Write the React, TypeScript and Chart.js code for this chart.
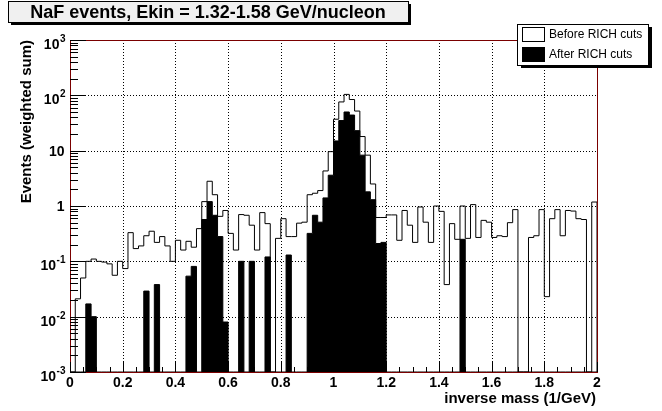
import React, { useEffect, useRef } from 'react';
import { Chart, registerables } from 'chart.js';

Chart.register(...registerables);

// ---- data -------------------------------------------------------------
const binLowEdges = [
  0.0, 0.02, 0.04, 0.06, 0.08, 0.1, 0.12, 0.14, 0.16, 0.18,
  0.2, 0.22, 0.24, 0.26, 0.28, 0.3, 0.32, 0.34, 0.36, 0.38,
  0.4, 0.42, 0.44, 0.46, 0.48, 0.5, 0.52, 0.54, 0.56, 0.58,
  0.6, 0.62, 0.64, 0.66, 0.68, 0.7, 0.72, 0.74, 0.76, 0.78,
  0.8, 0.82, 0.84, 0.86, 0.88, 0.9, 0.92, 0.94, 0.96, 0.98,
  1.0, 1.02, 1.04, 1.06, 1.08, 1.1, 1.12, 1.14, 1.16, 1.18,
  1.2, 1.22, 1.24, 1.26, 1.28, 1.3, 1.32, 1.34, 1.36, 1.38,
  1.4, 1.42, 1.44, 1.46, 1.48, 1.5, 1.52, 1.54, 1.56, 1.58,
  1.6, 1.62, 1.64, 1.66, 1.68, 1.7, 1.72, 1.74, 1.76, 1.78,
  1.8, 1.82, 1.84, 1.86, 1.88, 1.9, 1.92, 1.94, 1.96, 1.98,
];
const xUpperEdge = 2.0;

const beforeRichCuts = [
  0, 0.021, 0.05, 0.1, 0.11, 0.1, 0.097, 0.09, 0.056, 0.1,
  0.074, 0.33, 0.17, 0.19, 0.29, 0.35, 0.22, 0.28, 0.19, 0.1,
  0.24, 0.16, 0.23, 0.18, 0.39, 1.2, 2.8, 1.6, 0.65, 0.83,
  0.32, 0.16, 0.7, 0.68, 0.45, 0.16, 0.76, 0.48, 0, 0.26,
  0.59, 0.28, 0.28, 0.49, 0.51, 1.6, 1.7, 1.9, 4.3, 9.6,
  37, 76, 104, 84, 52, 18, 8.3, 2.5, 0.62, 0.62,
  0.69, 0.69, 0.24, 0.83, 0.45, 0.22, 0.96, 0.51, 0.22, 1.0,
  0.8, 0.038, 0.48, 0.25, 1.0, 0.26, 1.06, 0.27, 0.55, 0.51,
  0.27, 0.29, 0.28, 0.5, 0.86, 0, 0, 0.27, 0.29, 0.86,
  0.023, 0.59, 0.86, 0.29, 0.83, 0.81, 0.59, 0.57, 0, 1.18,
];

const afterRichCuts = [
  0, 0, 0, 0.017, 0.01, 0, 0, 0, 0, 0,
  0, 0, 0, 0, 0.029, 0, 0.038, 0, 0, 0,
  0, 0, 0.054, 0.081, 0, 0.57, 1.2, 0.68, 0.28, 0.008,
  0, 0, 0.1, 0, 0.1, 0, 0, 0.12, 0, 0,
  0, 0.13, 0, 0, 0, 0.32, 0.68, 0.51, 1.4, 3.6,
  15, 35, 50, 44, 23, 8.3, 1.8, 1.3, 0.21, 0.22,
  0, 0, 0, 0, 0, 0, 0, 0, 0, 0,
  0, 0, 0, 0, 0.25, 0, 0, 0, 0, 0,
  0, 0, 0, 0, 0, 0, 0, 0, 0, 0,
  0, 0, 0, 0, 0, 0, 0, 0, 0, 0,
];

const xMajorTicks = [0, 0.2, 0.4, 0.6, 0.8, 1, 1.2, 1.4, 1.6, 1.8, 2];
const xTickLabels = ['0', '0.2', '0.4', '0.6', '0.8', '1', '1.2', '1.4', '1.6', '1.8', '2'];
const xMinorStep = 0.05;
const yDecadeExponents = [-3, -2, -1, 0, 1, 2, 3];

const titleText = 'NaF events, Ekin = 1.32-1.58 GeV/nucleon';
const xAxisTitle = 'inverse mass (1/GeV)';
const yAxisTitle = 'Events (weighted sum)';
const legendLabels = ['Before RICH cuts', 'After RICH cuts'];

const Y_MIN = 1e-3;
const Y_MAX = 1e3;

// ---- helpers -----------------------------------------------------------
function stepPoints(values: number[]) {
  const floorOf = (v: number) => (v > 0 ? v : Y_MIN);
  const pts: { x: number; y: number }[] = [];
  pts.push({ x: binLowEdges[0], y: Y_MIN });
  binLowEdges.forEach((x, i) => pts.push({ x, y: floorOf(values[i]) }));
  pts.push({ x: xUpperEdge, y: floorOf(values[values.length - 1]) });
  pts.push({ x: xUpperEdge, y: Y_MIN });
  return pts;
}

const FONT = '"Liberation Sans", Arial, Helvetica, sans-serif';
const hp = (v: number) => Math.round(v) + 0.5;

const rootStylePlugin = {
  id: 'rootStyle',
  beforeDraw(chart: any) {
    const { ctx, width, height } = chart;
    ctx.save();
    ctx.fillStyle = '#ffffff';
    ctx.fillRect(0, 0, width, height);
    ctx.restore();
  },
  beforeDatasetsDraw(chart: any) {
    const { ctx, chartArea } = chart;
    const xs = chart.scales.x;
    const ys = chart.scales.y;
    ctx.save();
    ctx.strokeStyle = '#000';
    ctx.lineWidth = 1;
    ctx.setLineDash([1, 2]);
    ctx.beginPath();
    xMajorTicks.slice(1, -1).forEach((v) => {
      const X = hp(xs.getPixelForValue(v));
      ctx.moveTo(X, chartArea.top);
      ctx.lineTo(X, chartArea.bottom);
    });
    yDecadeExponents.slice(1, -1).forEach((e) => {
      const Y = hp(ys.getPixelForValue(Math.pow(10, e)));
      ctx.moveTo(chartArea.left, Y);
      ctx.lineTo(chartArea.right, Y);
    });
    ctx.stroke();
    ctx.restore();
  },
  afterDatasetsDraw(chart: any) {
    const { ctx, chartArea } = chart;
    const { left, right, top, bottom } = chartArea;
    const xs = chart.scales.x;
    const ys = chart.scales.y;
    ctx.save();

    // frame
    ctx.strokeStyle = '#7a0000';
    ctx.lineWidth = 1;
    ctx.strokeRect(hp(left), hp(top), Math.round(right - left), Math.round(bottom - top));

    // ticks
    ctx.strokeStyle = '#000';
    ctx.beginPath();
    const nMinor = Math.round((xUpperEdge - binLowEdges[0]) / xMinorStep);
    for (let i = 0; i <= nMinor; i++) {
      const v = binLowEdges[0] + i * xMinorStep;
      const X = hp(xs.getPixelForValue(v));
      const isMajor = Math.abs(v / 0.2 - Math.round(v / 0.2)) < 1e-6;
      ctx.moveTo(X, bottom);
      ctx.lineTo(X, bottom - (isMajor ? 10 : 5));
    }
    yDecadeExponents.forEach((e, idx) => {
      const Y = hp(ys.getPixelForValue(Math.pow(10, e)));
      ctx.moveTo(left, Y);
      ctx.lineTo(left + 16, Y);
      if (idx < yDecadeExponents.length - 1) {
        for (let m = 2; m <= 9; m++) {
          const Ym = hp(ys.getPixelForValue(m * Math.pow(10, e)));
          ctx.moveTo(left, Ym);
          ctx.lineTo(left + 8, Ym);
        }
      }
    });
    ctx.stroke();

    // x tick labels
    ctx.fillStyle = '#000';
    ctx.font = `bold 14px ${FONT}`;
    ctx.textAlign = 'center';
    ctx.textBaseline = 'alphabetic';
    xMajorTicks.forEach((v, i) => {
      ctx.fillText(xTickLabels[i], xs.getPixelForValue(v), 387);
    });

    // y tick labels (powers of ten)
    const xRight = left - 4.5;
    yDecadeExponents.forEach((e) => {
      const Y = ys.getPixelForValue(Math.pow(10, e));
      if (e === 0 || e === 1) {
        ctx.font = `bold 14px ${FONT}`;
        ctx.textAlign = 'right';
        ctx.fillText(e === 0 ? '1' : '10', xRight - 1, Y + 5);
      } else {
        const sup = String(e);
        ctx.font = `bold 10px ${FONT}`;
        const supW = ctx.measureText(sup).width;
        ctx.textAlign = 'left';
        ctx.fillText(sup, xRight - supW, Y + 2);
        ctx.font = `bold 14px ${FONT}`;
        ctx.textAlign = 'right';
        ctx.fillText('10', xRight - supW - 0.5, Y + 9);
      }
    });

    // axis titles
    ctx.font = `bold 15px ${FONT}`;
    ctx.textAlign = 'right';
    ctx.fillText(xAxisTitle, right - 1, 403);

    ctx.save();
    ctx.translate(31, top);
    ctx.rotate(-Math.PI / 2);
    ctx.textAlign = 'right';
    ctx.fillText(yAxisTitle, 0, 0);
    ctx.restore();

    ctx.restore();
  },
  afterDraw(chart: any) {
    const { ctx } = chart;
    ctx.save();

    // title pave
    const tx = 8, ty = 1, tw = 400, th = 21;
    ctx.fillStyle = '#000';
    ctx.fillRect(tx + 3, ty + 3, tw, th);
    ctx.fillStyle = '#f0f0f0';
    ctx.fillRect(tx, ty, tw, th);
    ctx.strokeStyle = '#000';
    ctx.lineWidth = 1;
    ctx.strokeRect(tx + 0.5, ty + 0.5, tw, th);
    ctx.fillStyle = '#000';
    ctx.font = `bold 18px ${FONT}`;
    ctx.textAlign = 'center';
    ctx.textBaseline = 'alphabetic';
    ctx.fillText(titleText, tx + tw / 2, 17.5);

    // legend
    const lx = 517, ly = 24, lw = 131, lh = 41;
    ctx.fillStyle = '#000';
    ctx.fillRect(lx + 4, ly + 3, lw, lh);
    ctx.fillStyle = '#fff';
    ctx.fillRect(lx, ly, lw, lh);
    ctx.strokeStyle = '#000';
    ctx.strokeRect(lx + 0.5, ly + 0.5, lw, lh);

    ctx.fillStyle = '#fff';
    ctx.fillRect(523, 27, 22, 14);
    ctx.strokeRect(522.5, 27.5, 22, 14);
    ctx.fillStyle = '#000';
    ctx.fillRect(522, 47, 23, 15);

    ctx.font = `12px ${FONT}`;
    ctx.textAlign = 'left';
    ctx.textBaseline = 'middle';
    ctx.fillText(legendLabels[0], 549, 34.5);
    ctx.fillText(legendLabels[1], 549, 54.5);

    ctx.restore();
  },
};

export default function App() {
  const canvasRef = useRef<HTMLCanvasElement | null>(null);

  useEffect(() => {
    const canvas = canvasRef.current;
    if (!canvas) return;
    const chart = new Chart(canvas, {
      type: 'line',
      data: {
        datasets: [
          {
            label: legendLabels[1],
            data: stepPoints(afterRichCuts),
            stepped: 'before',
            borderColor: '#000',
            backgroundColor: '#000',
            borderWidth: 1,
            fill: 'start',
            pointRadius: 0,
            order: 0,
          },
          {
            label: legendLabels[0],
            data: stepPoints(beforeRichCuts),
            stepped: 'before',
            borderColor: '#000',
            backgroundColor: 'rgba(0,0,0,0)',
            borderWidth: 1,
            fill: false,
            pointRadius: 0,
            order: 1,
          },
        ],
      },
      options: {
        animation: false,
        responsive: false,
        layout: { padding: { left: 70, top: 40, right: 65, bottom: 39 } },
        scales: {
          x: { type: 'linear', min: 0, max: 2, display: false },
          y: { type: 'logarithmic', min: Y_MIN, max: Y_MAX, display: false },
        },
        plugins: {
          legend: { display: false },
          tooltip: { enabled: false },
        },
      },
      plugins: [rootStylePlugin],
    } as any);
    return () => chart.destroy();
  }, []);

  return (
    <div style={{ position: 'fixed', left: 0, top: 0, width: 662, height: 411, background: '#fff' }}>
      <canvas ref={canvasRef} width={662} height={411} style={{ width: 662, height: 411, display: 'block' }} />
    </div>
  );
}
